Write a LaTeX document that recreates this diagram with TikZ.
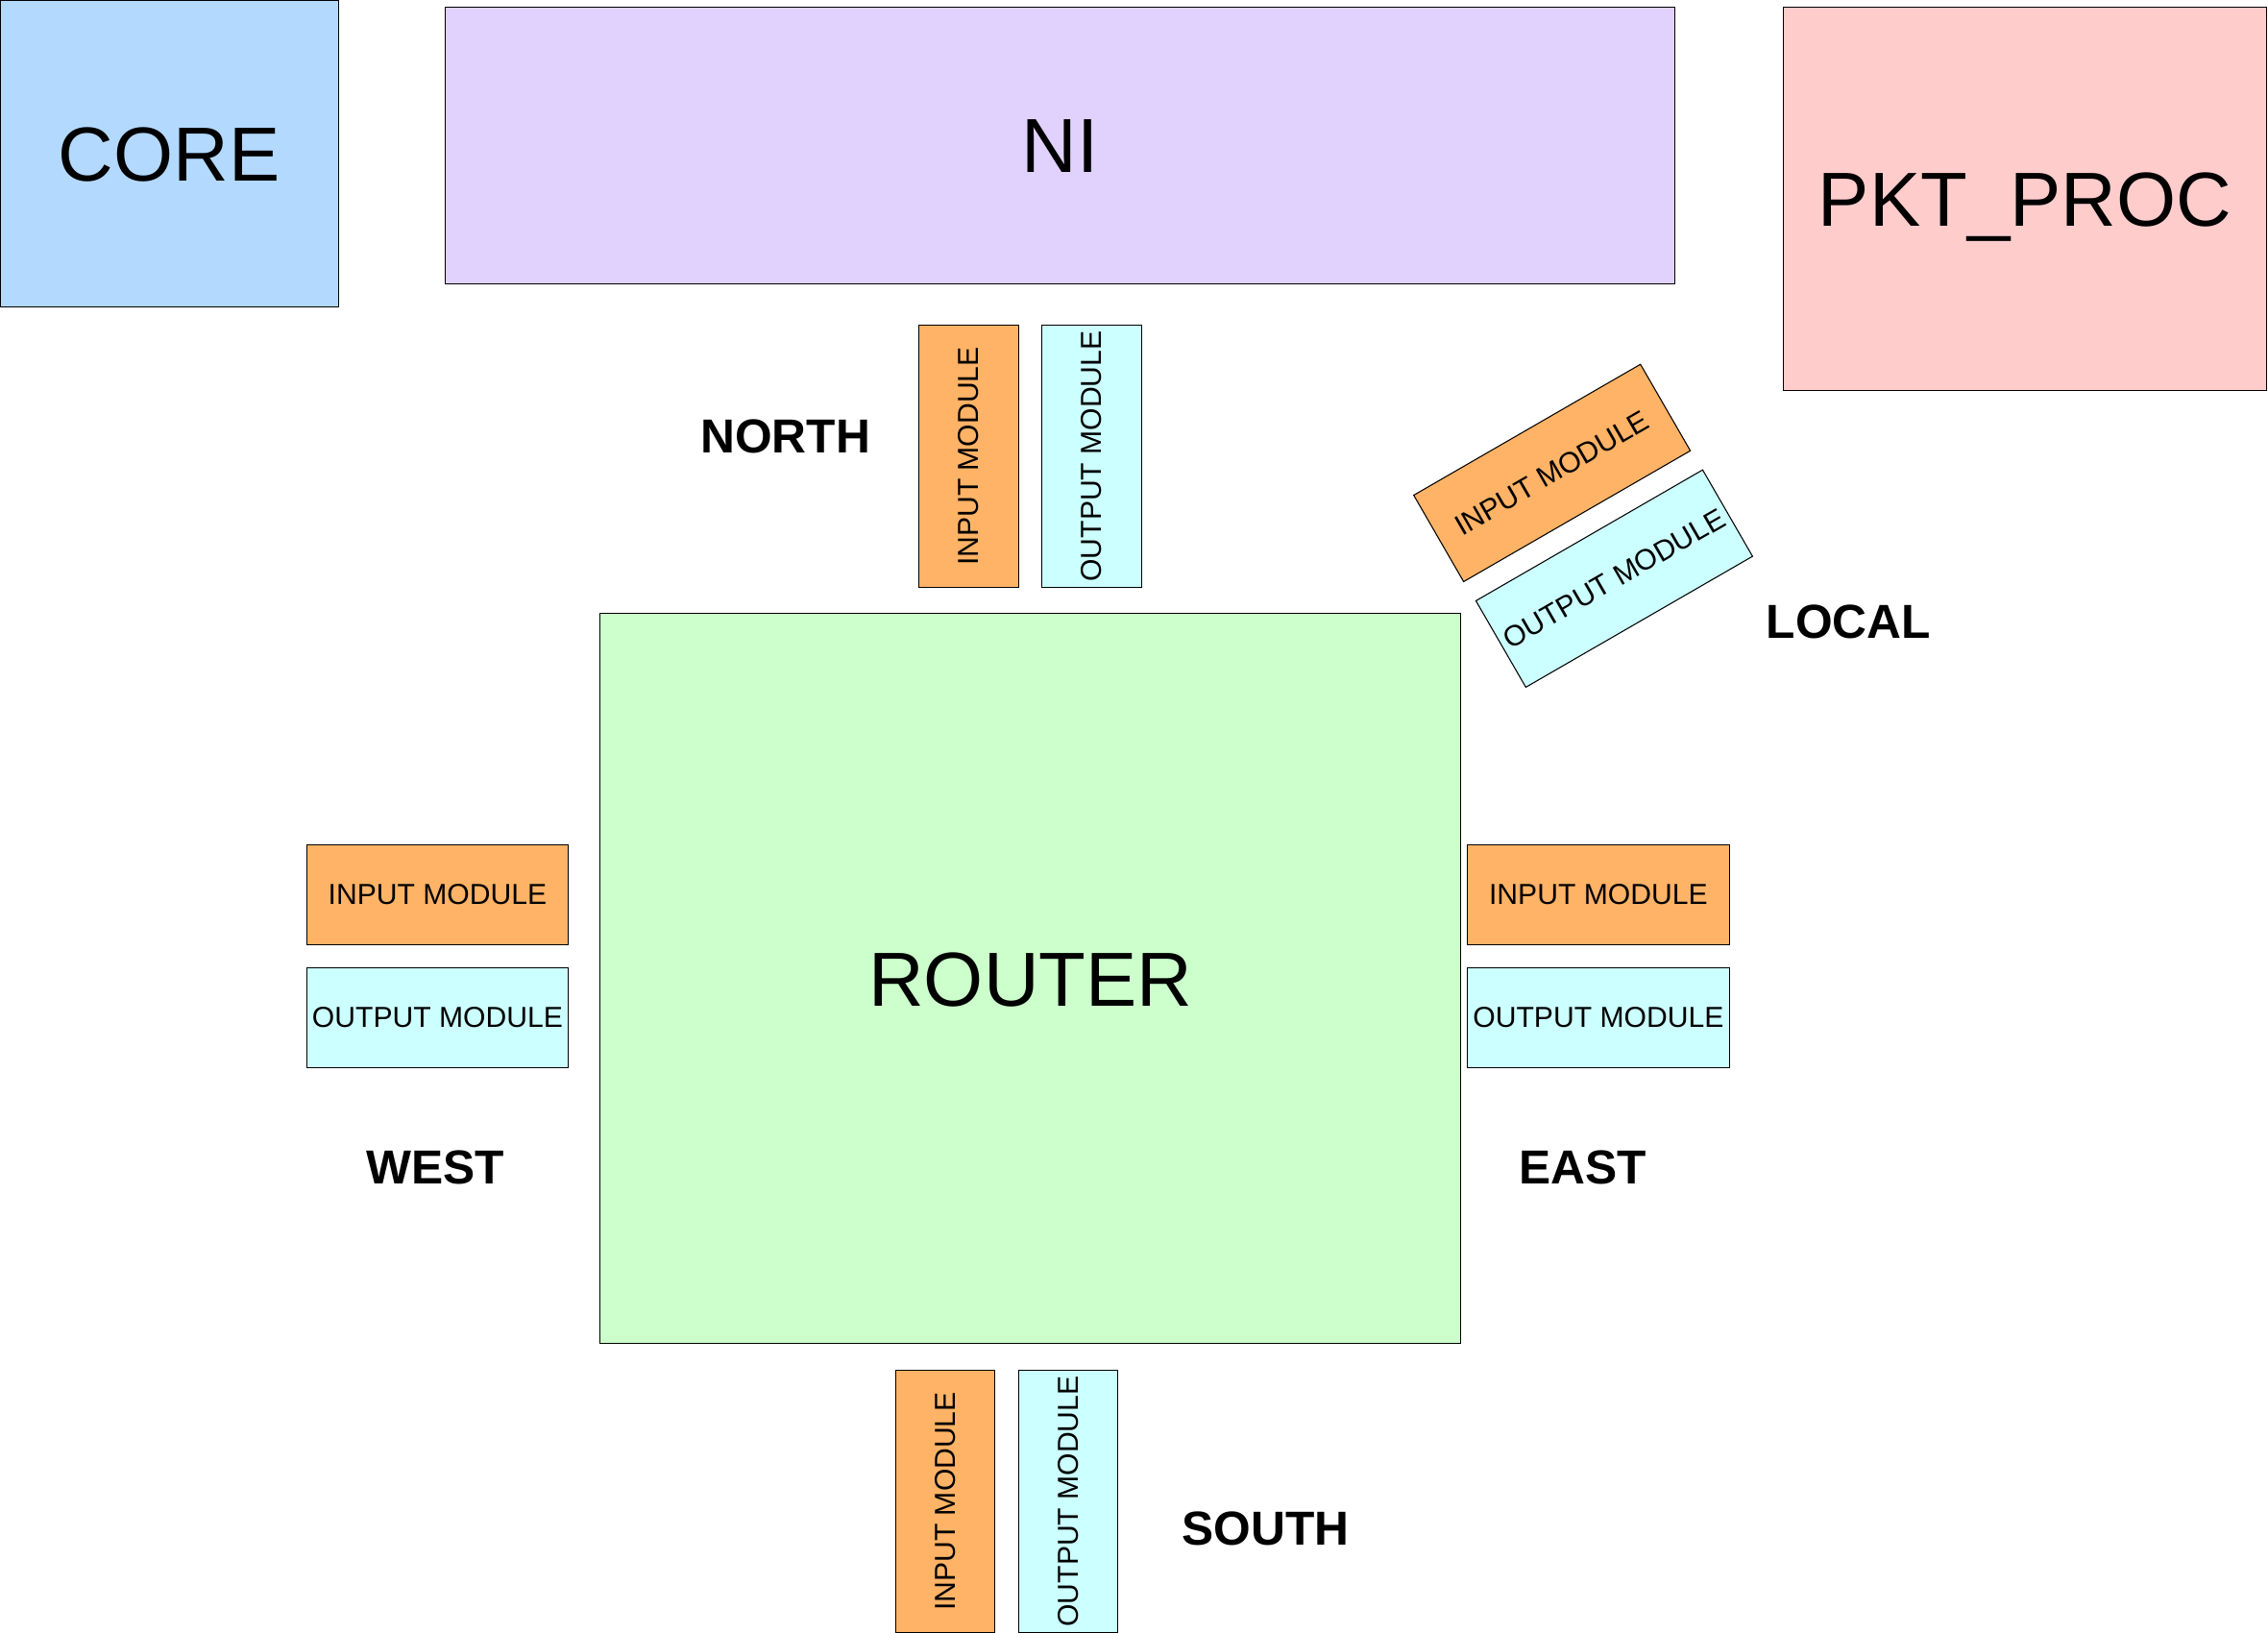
\documentclass[tikz,border=0pt]{standalone}
\usepackage{fontspec}
\setmainfont{Liberation Sans}
\usepackage{tikz}
\definecolor{corefill}{HTML}{B3D9FF}
\definecolor{nifill}{HTML}{E1D1FD}
\definecolor{pktfill}{HTML}{FFCCCC}
\definecolor{infill}{HTML}{FFB366}
\definecolor{outfill}{HTML}{CCFFFF}
\definecolor{routerfill}{HTML}{CCFFCC}
\begin{document}
\begin{tikzpicture}[x=1pt,y=-1pt,
		block/.style={draw=black,line width=0.7pt,inner sep=0pt,text height=38pt,text depth=0pt,font=\fontsize{53}{60}\selectfont},
		inmod/.style={draw=black,line width=0.7pt,fill=infill,inner sep=0pt,minimum width=181pt,minimum height=69pt,font=\fontsize{20}{24}\selectfont},
		outmod/.style={inmod,fill=outfill},
		port/.style={font=\fontsize{33}{36}\selectfont\bfseries}]
		\useasboundingbox (0,0) rectangle (1568,1129);
		\node[block,fill=corefill,minimum width=234pt,minimum height=212pt] (core) at (117,106) {CORE};
		\node[block,fill=nifill,minimum width=850pt,minimum height=191pt] (ni) at (733,100.5) {NI};
		\node[block,fill=pktfill,minimum width=334pt,minimum height=265pt] (pkt) at (1400,137.5) {PKT\_PROC};
		\node[block,fill=routerfill,minimum width=595pt,minimum height=505pt] (router) at (712.5,676.5) {ROUTER};
		\node[inmod,rotate=90] (nin) at (669.5,315.5) {INPUT MODULE};
		\node[outmod,rotate=90] (nout) at (754.5,315.5) {OUTPUT MODULE};
		\node[inmod] (win) at (302.5,618.5) {INPUT MODULE};
		\node[outmod] (wout) at (302.5,703.5) {OUTPUT MODULE};
		\node[inmod] (ein) at (1105,618.5) {INPUT MODULE};
		\node[outmod] (eout) at (1105,703.5) {OUTPUT MODULE};
		\node[inmod,rotate=90] (sin) at (653.5,1038) {INPUT MODULE};
		\node[outmod,rotate=90] (sout) at (738.5,1038) {OUTPUT MODULE};
		\node[inmod,rotate=30] (lin) at (1073,327) {INPUT MODULE};
		\node[outmod,rotate=30] (lout) at (1116,400) {OUTPUT MODULE};
		\node[port] (north) at (543,302) {NORTH};
		\node[port] (west) at (301,807) {WEST};
		\node[port] (east) at (1094,807) {EAST};
		\node[port] (south) at (875,1057) {SOUTH};
		\node[port] (local) at (1278,430) {LOCAL};
	\end{tikzpicture}
\end{document}
